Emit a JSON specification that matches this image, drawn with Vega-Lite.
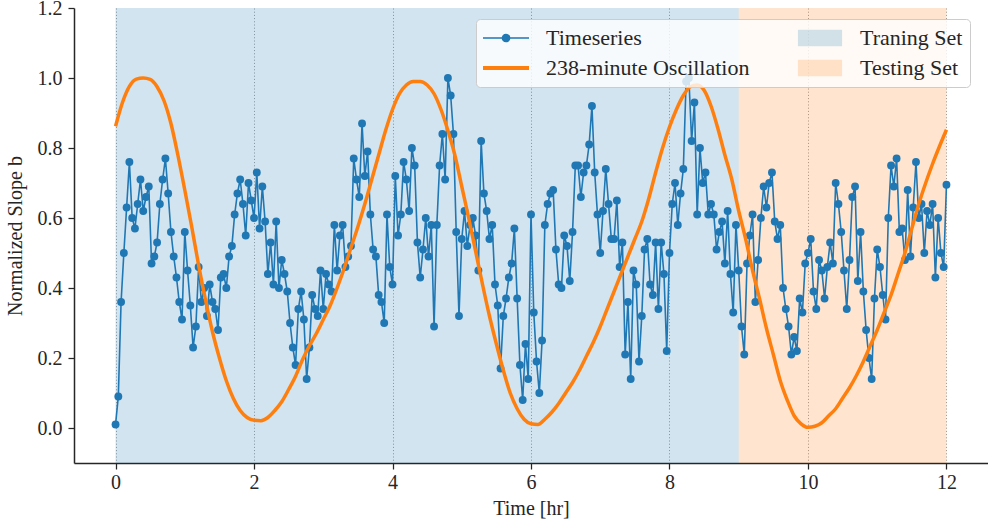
{
  "$schema": "https://vega.github.io/schema/vega-lite/v6.json",
  "width": 914,
  "height": 455,
  "autosize": "none",
  "padding": {"left": 74, "top": 8, "right": 0, "bottom": 64},
  "background": "white",
  "config": {
    "font": "Liberation Serif",
    "view": {"stroke": null},
    "axis": {
      "labelFont": "Liberation Serif", "labelFontSize": 20, "labelColor": "#262626",
      "titleFont": "Liberation Serif", "titleFontSize": 20, "titleFontWeight": "normal", "titleColor": "#262626",
      "domainColor": "#262626", "domainWidth": 1.5,
      "tickColor": "#262626", "tickWidth": 1.25, "tickSize": 6,
      "gridColor": "#8a8a8a", "gridDash": [1, 2.2], "gridWidth": 0.9
    }
  },
  "datasets": {
    "sets": [
      {"start": 0, "end": 9, "label": "Traning Set"},
      {"start": 9, "end": 12, "label": "Testing Set"}
    ],
    "ts": [
      {"t":0.00,"v":0.01},{"t":0.04,"v":0.09},{"t":0.08,"v":0.36},{"t":0.12,"v":0.50},{"t":0.16,"v":0.63},{"t":0.20,"v":0.76},{"t":0.24,"v":0.60},{"t":0.28,"v":0.57},{"t":0.32,"v":0.64},{"t":0.36,"v":0.71},{"t":0.40,"v":0.62},{"t":0.44,"v":0.66},{"t":0.48,"v":0.69},{"t":0.52,"v":0.47},{"t":0.56,"v":0.49},{"t":0.60,"v":0.53},{"t":0.64,"v":0.64},{"t":0.68,"v":0.71},{"t":0.72,"v":0.77},{"t":0.76,"v":0.67},{"t":0.80,"v":0.56},{"t":0.84,"v":0.49},{"t":0.88,"v":0.43},{"t":0.92,"v":0.36},{"t":0.96,"v":0.31},
      {"t":1.00,"v":0.56},{"t":1.04,"v":0.45},{"t":1.08,"v":0.35},{"t":1.12,"v":0.23},{"t":1.16,"v":0.29},{"t":1.20,"v":0.46},{"t":1.24,"v":0.36},{"t":1.28,"v":0.40},{"t":1.32,"v":0.32},{"t":1.36,"v":0.41},{"t":1.40,"v":0.36},{"t":1.44,"v":0.34},{"t":1.48,"v":0.28},{"t":1.52,"v":0.43},{"t":1.56,"v":0.44},{"t":1.60,"v":0.40},{"t":1.64,"v":0.49},{"t":1.68,"v":0.52},{"t":1.72,"v":0.61},{"t":1.76,"v":0.67},{"t":1.80,"v":0.71},{"t":1.84,"v":0.64},{"t":1.88,"v":0.55},{"t":1.92,"v":0.70},{"t":1.96,"v":0.65},
      {"t":2.00,"v":0.60},{"t":2.04,"v":0.73},{"t":2.08,"v":0.57},{"t":2.12,"v":0.69},{"t":2.16,"v":0.59},{"t":2.20,"v":0.44},{"t":2.24,"v":0.53},{"t":2.28,"v":0.41},{"t":2.32,"v":0.59},{"t":2.36,"v":0.40},{"t":2.40,"v":0.48},{"t":2.44,"v":0.44},{"t":2.48,"v":0.39},{"t":2.52,"v":0.30},{"t":2.56,"v":0.23},{"t":2.60,"v":0.18},{"t":2.64,"v":0.34},{"t":2.68,"v":0.39},{"t":2.72,"v":0.31},{"t":2.76,"v":0.14},{"t":2.80,"v":0.23},{"t":2.84,"v":0.38},{"t":2.88,"v":0.34},{"t":2.92,"v":0.32},{"t":2.96,"v":0.45},
      {"t":3.00,"v":0.34},{"t":3.04,"v":0.44},{"t":3.08,"v":0.41},{"t":3.12,"v":0.39},{"t":3.16,"v":0.58},{"t":3.20,"v":0.45},{"t":3.24,"v":0.55},{"t":3.28,"v":0.58},{"t":3.32,"v":0.46},{"t":3.36,"v":0.49},{"t":3.40,"v":0.52},{"t":3.44,"v":0.77},{"t":3.48,"v":0.71},{"t":3.52,"v":0.66},{"t":3.56,"v":0.87},{"t":3.60,"v":0.72},{"t":3.64,"v":0.79},{"t":3.68,"v":0.61},{"t":3.72,"v":0.51},{"t":3.76,"v":0.49},{"t":3.80,"v":0.38},{"t":3.84,"v":0.36},{"t":3.88,"v":0.30},{"t":3.92,"v":0.61},{"t":3.96,"v":0.46},
      {"t":4.00,"v":0.41},{"t":4.04,"v":0.72},{"t":4.08,"v":0.55},{"t":4.12,"v":0.61},{"t":4.16,"v":0.76},{"t":4.20,"v":0.71},{"t":4.24,"v":0.62},{"t":4.28,"v":0.80},{"t":4.32,"v":0.75},{"t":4.36,"v":0.53},{"t":4.40,"v":0.43},{"t":4.44,"v":0.51},{"t":4.48,"v":0.60},{"t":4.52,"v":0.49},{"t":4.56,"v":0.58},{"t":4.60,"v":0.29},{"t":4.64,"v":0.58},{"t":4.68,"v":0.75},{"t":4.72,"v":0.84},{"t":4.76,"v":0.71},{"t":4.80,"v":1.00},{"t":4.84,"v":0.95},{"t":4.88,"v":0.84},{"t":4.92,"v":0.56},{"t":4.96,"v":0.32},
      {"t":5.00,"v":0.54},{"t":5.04,"v":0.62},{"t":5.08,"v":0.52},{"t":5.12,"v":0.58},{"t":5.16,"v":0.60},{"t":5.20,"v":0.55},{"t":5.24,"v":0.45},{"t":5.28,"v":0.82},{"t":5.32,"v":0.67},{"t":5.36,"v":0.62},{"t":5.40,"v":0.54},{"t":5.44,"v":0.58},{"t":5.48,"v":0.41},{"t":5.52,"v":0.35},{"t":5.56,"v":0.17},{"t":5.60,"v":0.32},{"t":5.64,"v":0.37},{"t":5.68,"v":0.43},{"t":5.72,"v":0.47},{"t":5.76,"v":0.57},{"t":5.80,"v":0.37},{"t":5.84,"v":0.18},{"t":5.88,"v":0.08},{"t":5.92,"v":0.24},{"t":5.96,"v":0.14},
      {"t":6.00,"v":0.61},{"t":6.04,"v":0.33},{"t":6.08,"v":0.19},{"t":6.12,"v":0.10},{"t":6.16,"v":0.25},{"t":6.20,"v":0.58},{"t":6.24,"v":0.64},{"t":6.28,"v":0.67},{"t":6.32,"v":0.68},{"t":6.36,"v":0.51},{"t":6.40,"v":0.41},{"t":6.44,"v":0.40},{"t":6.48,"v":0.55},{"t":6.52,"v":0.52},{"t":6.56,"v":0.42},{"t":6.60,"v":0.56},{"t":6.64,"v":0.75},{"t":6.68,"v":0.75},{"t":6.72,"v":0.66},{"t":6.76,"v":0.73},{"t":6.80,"v":0.75},{"t":6.84,"v":0.81},{"t":6.88,"v":0.92},{"t":6.92,"v":0.73},{"t":6.96,"v":0.61},
      {"t":7.00,"v":0.50},{"t":7.04,"v":0.62},{"t":7.08,"v":0.74},{"t":7.12,"v":0.64},{"t":7.16,"v":0.54},{"t":7.20,"v":0.54},{"t":7.24,"v":0.65},{"t":7.28,"v":0.46},{"t":7.32,"v":0.53},{"t":7.36,"v":0.21},{"t":7.40,"v":0.36},{"t":7.44,"v":0.14},{"t":7.48,"v":0.45},{"t":7.52,"v":0.41},{"t":7.56,"v":0.19},{"t":7.60,"v":0.32},{"t":7.64,"v":0.51},{"t":7.68,"v":0.54},{"t":7.72,"v":0.41},{"t":7.76,"v":0.38},{"t":7.80,"v":0.53},{"t":7.84,"v":0.34},{"t":7.88,"v":0.53},{"t":7.92,"v":0.44},{"t":7.96,"v":0.22},
      {"t":8.00,"v":0.50},{"t":8.04,"v":0.64},{"t":8.08,"v":0.70},{"t":8.12,"v":0.58},{"t":8.16,"v":0.67},{"t":8.20,"v":0.74},{"t":8.24,"v":0.99},{"t":8.28,"v":1.00},{"t":8.32,"v":0.82},{"t":8.36,"v":0.93},{"t":8.40,"v":0.61},{"t":8.44,"v":0.80},{"t":8.48,"v":0.70},{"t":8.52,"v":0.73},{"t":8.56,"v":0.61},{"t":8.60,"v":0.64},{"t":8.64,"v":0.61},{"t":8.68,"v":0.51},{"t":8.72,"v":0.56},{"t":8.76,"v":0.59},{"t":8.80,"v":0.47},{"t":8.84,"v":0.62},{"t":8.88,"v":0.44},{"t":8.92,"v":0.33},{"t":8.96,"v":0.58},
      {"t":9.00,"v":0.45},{"t":9.04,"v":0.29},{"t":9.08,"v":0.21},{"t":9.12,"v":0.47},{"t":9.16,"v":0.55},{"t":9.20,"v":0.61},{"t":9.24,"v":0.36},{"t":9.28,"v":0.48},{"t":9.32,"v":0.60},{"t":9.36,"v":0.69},{"t":9.40,"v":0.63},{"t":9.44,"v":0.70},{"t":9.48,"v":0.73},{"t":9.52,"v":0.59},{"t":9.56,"v":0.54},{"t":9.60,"v":0.58},{"t":9.64,"v":0.40},{"t":9.68,"v":0.34},{"t":9.72,"v":0.29},{"t":9.76,"v":0.21},{"t":9.80,"v":0.26},{"t":9.84,"v":0.22},{"t":9.88,"v":0.37},{"t":9.92,"v":0.33},{"t":9.96,"v":0.47},
      {"t":10.00,"v":0.50},{"t":10.04,"v":0.54},{"t":10.08,"v":0.39},{"t":10.12,"v":0.34},{"t":10.16,"v":0.48},{"t":10.20,"v":0.45},{"t":10.24,"v":0.37},{"t":10.28,"v":0.46},{"t":10.32,"v":0.53},{"t":10.36,"v":0.47},{"t":10.40,"v":0.70},{"t":10.44,"v":0.64},{"t":10.48,"v":0.56},{"t":10.52,"v":0.45},{"t":10.56,"v":0.34},{"t":10.60,"v":0.48},{"t":10.64,"v":0.66},{"t":10.68,"v":0.69},{"t":10.72,"v":0.42},{"t":10.76,"v":0.56},{"t":10.80,"v":0.39},{"t":10.84,"v":0.28},{"t":10.88,"v":0.20},{"t":10.92,"v":0.14},{"t":10.96,"v":0.37},
      {"t":11.00,"v":0.51},{"t":11.04,"v":0.46},{"t":11.08,"v":0.38},{"t":11.12,"v":0.31},{"t":11.16,"v":0.60},{"t":11.20,"v":0.75},{"t":11.24,"v":0.69},{"t":11.28,"v":0.77},{"t":11.32,"v":0.56},{"t":11.36,"v":0.57},{"t":11.40,"v":0.48},{"t":11.44,"v":0.68},{"t":11.48,"v":0.49},{"t":11.52,"v":0.63},{"t":11.56,"v":0.76},{"t":11.60,"v":0.60},{"t":11.64,"v":0.64},{"t":11.68,"v":0.50},{"t":11.72,"v":0.62},{"t":11.76,"v":0.58},{"t":11.80,"v":0.64},{"t":11.84,"v":0.43},{"t":11.88,"v":0.60},{"t":11.92,"v":0.50},{"t":11.96,"v":0.46},{"t":12.00,"v":0.695}
    ],
    "osc": [
      {"t":0.0,"v":0.862},{"t":0.1,"v":0.93},{"t":0.2,"v":0.976},{"t":0.3,"v":0.997},{"t":0.4,"v":1.0},{"t":0.5,"v":0.996},{"t":0.6,"v":0.975},{"t":0.7,"v":0.935},{"t":0.8,"v":0.87},{"t":0.9,"v":0.78},
      {"t":1.0,"v":0.68},{"t":1.1,"v":0.575},{"t":1.2,"v":0.465},{"t":1.3,"v":0.365},{"t":1.4,"v":0.275},{"t":1.5,"v":0.2},{"t":1.6,"v":0.135},{"t":1.7,"v":0.085},{"t":1.8,"v":0.05},{"t":1.9,"v":0.03},
      {"t":2.0,"v":0.022},{"t":2.1,"v":0.021},{"t":2.2,"v":0.03},{"t":2.3,"v":0.05},{"t":2.4,"v":0.075},{"t":2.5,"v":0.11},{"t":2.6,"v":0.148},{"t":2.7,"v":0.195},{"t":2.8,"v":0.235},{"t":2.9,"v":0.27},
      {"t":3.0,"v":0.31},{"t":3.1,"v":0.35},{"t":3.2,"v":0.4},{"t":3.3,"v":0.455},{"t":3.4,"v":0.515},{"t":3.5,"v":0.575},{"t":3.6,"v":0.64},{"t":3.7,"v":0.71},{"t":3.8,"v":0.78},{"t":3.9,"v":0.85},
      {"t":4.0,"v":0.91},{"t":4.1,"v":0.955},{"t":4.2,"v":0.98},{"t":4.3,"v":0.99},{"t":4.4,"v":0.99},{"t":4.5,"v":0.98},{"t":4.6,"v":0.955},{"t":4.7,"v":0.91},{"t":4.8,"v":0.85},{"t":4.9,"v":0.78},
      {"t":5.0,"v":0.69},{"t":5.1,"v":0.6},{"t":5.2,"v":0.505},{"t":5.3,"v":0.41},{"t":5.4,"v":0.32},{"t":5.5,"v":0.24},{"t":5.6,"v":0.165},{"t":5.7,"v":0.1},{"t":5.8,"v":0.055},{"t":5.9,"v":0.025},
      {"t":6.0,"v":0.012},{"t":6.1,"v":0.01},{"t":6.2,"v":0.025},{"t":6.3,"v":0.045},{"t":6.4,"v":0.07},{"t":6.5,"v":0.1},{"t":6.6,"v":0.13},{"t":6.7,"v":0.165},{"t":6.8,"v":0.205},{"t":6.9,"v":0.245},
      {"t":7.0,"v":0.29},{"t":7.1,"v":0.34},{"t":7.2,"v":0.39},{"t":7.3,"v":0.44},{"t":7.4,"v":0.49},{"t":7.5,"v":0.54},{"t":7.6,"v":0.59},{"t":7.7,"v":0.655},{"t":7.8,"v":0.73},{"t":7.9,"v":0.8},
      {"t":8.0,"v":0.86},{"t":8.1,"v":0.91},{"t":8.2,"v":0.95},{"t":8.3,"v":0.975},{"t":8.4,"v":0.98},{"t":8.5,"v":0.965},{"t":8.6,"v":0.92},{"t":8.7,"v":0.855},{"t":8.8,"v":0.78},{"t":8.9,"v":0.71},
      {"t":9.0,"v":0.62},{"t":9.1,"v":0.54},{"t":9.2,"v":0.45},{"t":9.3,"v":0.37},{"t":9.4,"v":0.285},{"t":9.5,"v":0.21},{"t":9.6,"v":0.135},{"t":9.7,"v":0.08},{"t":9.8,"v":0.035},{"t":9.9,"v":0.012},
      {"t":10.0,"v":0.002},{"t":10.1,"v":0.005},{"t":10.2,"v":0.015},{"t":10.3,"v":0.035},{"t":10.4,"v":0.055},{"t":10.5,"v":0.085},{"t":10.6,"v":0.115},{"t":10.7,"v":0.15},{"t":10.8,"v":0.19},{"t":10.9,"v":0.235},
      {"t":11.0,"v":0.28},{"t":11.1,"v":0.33},{"t":11.2,"v":0.38},{"t":11.3,"v":0.44},{"t":11.4,"v":0.5},{"t":11.5,"v":0.57},{"t":11.6,"v":0.64},{"t":11.7,"v":0.7},{"t":11.8,"v":0.755},{"t":11.9,"v":0.805},{"t":12.0,"v":0.852}
    ]
  },
  "layer": [
    {
      "data": {"name": "sets"},
      "mark": {"type": "rect"},
      "encoding": {
        "x": {
          "field": "start", "type": "quantitative",
          "scale": {"domain": [-0.6, 12.6], "nice": false, "zero": false},
          "axis": {"values": [0, 2, 4, 6, 8, 10, 12], "format": "d", "title": "Time [hr]", "labelPadding": 3, "titlePadding": 6}
        },
        "x2": {"field": "end"},
        "color": {
          "field": "label", "type": "nominal",
          "scale": {
            "domain": ["Timeseries", "238-minute Oscillation", "Traning Set", "Testing Set"],
            "range": ["#1f77b4", "#ff7f0e", "rgba(31,119,180,0.2)", "rgba(255,127,14,0.2)"]
          },
          "legend": {
            "title": null,
            "orient": "none", "legendX": 402, "legendY": 11,
            "columns": 2, "columnPadding": 47, "rowPadding": 6,
            "symbolSize": 2116, "clipHeight": 24, "labelOffset": 17, "padding": 7,
            "symbolStrokeWidth": 0, "symbolOpacity": 1,
            "fillColor": "rgba(255,255,255,0.8)", "strokeColor": "#cccccc", "cornerRadius": 4,
            "labelFont": "Liberation Serif", "labelFontSize": 22, "labelColor": "#262626", "labelLimit": 0
          }
        }
      }
    },
    {
      "data": {"name": "sets"},
      "mark": {"type": "point", "filled": true, "size": 0, "opacity": 1},
      "encoding": {
        "x": {"field": "start", "type": "quantitative"},
        "y": {"datum": 0.5},
        "shape": {
          "field": "label", "type": "nominal",
          "scale": {
            "domain": ["Timeseries", "238-minute Oscillation", "Traning Set", "Testing Set"],
            "range": [
              "M-1,-0.035H1V0.035H-1Z M0,-0.19A0.19,0.19 0 1,1 0,0.19A0.19,0.19 0 1,1 0,-0.19Z",
              "M-1,-0.085H1V0.085H-1Z",
              "M-0.96,-0.36H0.96V0.36H-0.96Z",
              "M-0.96,-0.36H0.96V0.36H-0.96Z"
            ]
          },
          "legend": {"title": null, "symbolOpacity": 1, "symbolStrokeWidth": 0}
        }
      }
    },
    {
      "data": {"name": "ts"},
      "mark": {"type": "line", "strokeWidth": 1.6},
      "encoding": {
        "x": {"field": "t", "type": "quantitative"},
        "y": {
          "field": "v", "type": "quantitative",
          "scale": {"domain": [-0.1, 1.2], "nice": false, "zero": false},
          "axis": {"values": [0, 0.2, 0.4, 0.6, 0.8, 1.0, 1.2], "format": ".1f", "title": "Normalized Slope b", "labelPadding": 6, "titlePadding": 12}
        },
        "color": {"datum": "Timeseries"}
      }
    },
    {
      "data": {"name": "ts"},
      "mark": {"type": "point", "filled": true, "size": 62, "opacity": 1, "color": "#1f77b4"},
      "encoding": {
        "x": {"field": "t", "type": "quantitative"},
        "y": {"field": "v", "type": "quantitative"}
      }
    },
    {
      "data": {"name": "osc"},
      "mark": {"type": "line", "strokeWidth": 3.5, "interpolate": "monotone"},
      "encoding": {
        "x": {"field": "t", "type": "quantitative"},
        "y": {"field": "v", "type": "quantitative"},
        "color": {"datum": "238-minute Oscillation"}
      }
    }
  ]
}
